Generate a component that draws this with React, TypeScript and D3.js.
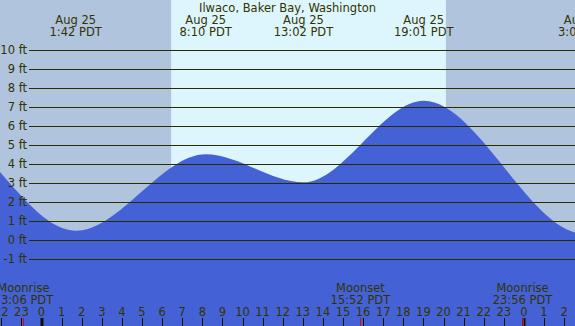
import * as d3 from 'd3'

// hours relative to Aug 25 00:00 PDT
const tideHours = [-11.7, -5.6, 1.7, 8.167, 13.033, 19.017, 27.0, 33.0]
const tideFeet = [2.8, 6.4, 0.5, 4.53, 3.05, 7.35, 0.35, 4.6]
const tideDates = ['Aug 24', 'Aug 24', 'Aug 25', 'Aug 25', 'Aug 25', 'Aug 25', 'Aug 26', 'Aug 26']
const tideTimes = ['12:18 PDT', '18:24 PDT', '1:42 PDT', '8:10 PDT', '13:02 PDT', '19:01 PDT', '3:00 PDT', '9:00 PDT']

const sunrise = 6.45
const sunset = 20.12

const moonHours = [-0.9, 15.867, 23.933]
const moonNames = ['Moonrise', 'Moonset', 'Moonrise']
const moonTimes = ['23:06 PDT', '15:52 PDT', '23:56 PDT']

const feetTicks = [-1, 0, 1, 2, 3, 4, 5, 6, 7, 8, 9, 10]
const hourTicks = d3.range(-2, 27)

const W = 575
const H = 326
const INK = '#333300'
const FONT = '"DejaVu Sans", Verdana, sans-serif'

export default function App() {
  const x = d3.scaleLinear().domain([0, 24]).range([41.5, 41.5 + 24 * 20.1])
  const y = d3.scaleLinear().domain([-1, 10]).range([259.3, 50.3])

  const pts = tideHours.map((t, i) => [t, tideFeet[i]] as [number, number])
  const area = d3
    .area<[number, number]>()
    .x(d => x(d[0]))
    .y0(H)
    .y1(d => y(d[1]))
    .curve(d3.curveMonotoneX)

  // only label tides whose label lands (at least partly) on the chart
  const labelled = tideHours.map((t, i) => i).filter(i => x(tideHours[i]) > -20 && x(tideHours[i]) < W + 20)

  return (
    <div style={{ position: 'fixed', left: 0, top: 0 }}>
      <svg width={W} height={H} style={{ display: 'block' }} fontFamily={FONT} fontSize={11.5}>
        <rect x={0} y={0} width={W} height={H} fill="#b0c4de" />
        <rect x={x(sunrise)} y={0} width={x(sunset) - x(sunrise)} height={H} fill="#ddf6fd" />
        <path d={area(pts) ?? ''} fill="#4462d6" />

        {feetTicks.map(f => (
          <g key={f}>
            <line x1={29} x2={W} y1={Math.round(y(f)) + 0.5} y2={Math.round(y(f)) + 0.5} stroke="#2b2b00" strokeWidth={1} />
            <text x={27} y={y(f)} dy="0.36em" textAnchor="end" fill={INK}>
              {f} ft
            </text>
          </g>
        ))}

        <text x={W / 2} y={12} textAnchor="middle" fill={INK}>
          Ilwaco, Baker Bay, Washington
        </text>
        {labelled.map(i => (
          <g key={i}>
            <text x={x(tideHours[i])} y={24} textAnchor="middle" fill={INK}>
              {tideDates[i]}
            </text>
            <text x={x(tideHours[i])} y={36} textAnchor="middle" fill={INK}>
              {tideTimes[i]}
            </text>
          </g>
        ))}

        {hourTicks.map(h => {
          const midnight = h % 24 === 0
          return (
            <g key={h}>
              <line
                x1={Math.round(x(h)) + (midnight ? 0 : 0.5)}
                x2={Math.round(x(h)) + (midnight ? 0 : 0.5)}
                y1={318}
                y2={H}
                stroke="#111100"
                strokeWidth={midnight ? 3 : 1}
              />
              <text x={x(h)} y={316} textAnchor="middle" fill={INK}>
                {((h % 24) + 24) % 24}
              </text>
            </g>
          )
        })}

        {moonHours.map((t, i) => (
          <g key={i}>
            <line x1={Math.round(x(t)) + 0.5} x2={Math.round(x(t)) + 0.5} y1={318} y2={H} stroke="#ee0000" strokeWidth={1} />
            <text x={x(t)} y={291.5} textAnchor="middle" fill={INK}>
              {moonNames[i]}
            </text>
            <text x={x(t)} y={304} textAnchor="middle" fill={INK}>
              {moonTimes[i]}
            </text>
          </g>
        ))}
      </svg>
    </div>
  )
}
